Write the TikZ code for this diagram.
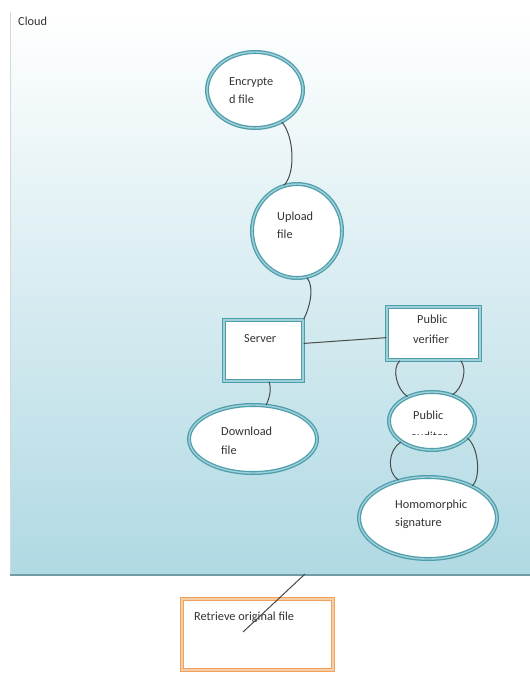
\documentclass[tikz,border=0pt]{standalone}
\usepackage{fontspec}
\setmainfont{Carlito}
\usetikzlibrary{shapes.geometric,calc}

\definecolor{tealring}{HTML}{4E9EAC}
\definecolor{tealpale}{HTML}{9FD0D9}
\definecolor{orangering}{HTML}{F0A15E}
\definecolor{orangepale}{HTML}{F7CDA6}
\definecolor{skyblue}{HTML}{B0D9E3}
\definecolor{edgegray}{HTML}{D4D8D9}
\definecolor{shadowteal}{HTML}{6F9CA6}
\definecolor{linkgray}{HTML}{4A4A4A}
\definecolor{inkgray}{HTML}{333333}

\tikzset{
  bubble/.style={ellipse, draw=tealring, double=tealpale, double distance=1.4pt,
    line width=1.3pt, fill=white, inner sep=0pt},
  tealbox/.style={rectangle, draw=tealring, double=tealpale, double distance=1.4pt,
    line width=1.4pt, fill=white, inner sep=0pt},
  orangebox/.style={rectangle, draw=orangering, double=orangepale, double distance=1.4pt,
    line width=1.4pt, fill=white, inner sep=0pt},
  lbl/.style={anchor=base west, inner sep=0pt, text=inkgray,
    font=\fontsize{12.3}{14}\selectfont},
  link/.style={draw=linkgray, line width=1pt},
}

\begin{document}
\begin{tikzpicture}[x=1pt,y=-1pt]
  \useasboundingbox (0,0) rectangle (530,675);
  \fill[white] (0,0) rectangle (530,675);

  % cloud region
  \shade[top color=white, bottom color=skyblue] (10,12) rectangle (530,575);
  \draw[edgegray, line width=1pt] (10,12) -- (10,575);
  \draw[shadowteal, line width=2pt] (10,575) -- (530,575);
  \node[lbl] (cloudlbl) at (18,25) {Cloud};

  % shapes
  \node[bubble, minimum width=96pt, minimum height=76pt] (enc) at (255,90) {};
  \node[bubble, minimum width=90pt, minimum height=94pt] (upl) at (297,231) {};
  \node[tealbox, minimum width=79pt, minimum height=61pt] (srv) at (263.5,350.5) {};
  \node[tealbox, minimum width=93pt, minimum height=53pt] (ver) at (433.5,333.5) {};
  \node[bubble, minimum width=86pt, minimum height=58pt] (aud) at (432,421) {};
  \node[bubble, minimum width=138pt, minimum height=82pt] (hom) at (428,518) {};
  \node[bubble, minimum width=128pt, minimum height=68pt] (dl) at (253,439) {};
  \node[orangebox, minimum width=151pt, minimum height=71pt] (ret) at (257.5,634.5) {};

  % labels
  \node[lbl] (encA) at (229,85) {Encrypte};
  \node[lbl] (encB) at (229,103) {d file};
  \node[lbl] (uplA) at (277,220) {Upload};
  \node[lbl] (uplB) at (277,238) {file};
  \node[lbl] (srvA) at (244,342) {Server};
  \node[lbl] (verA) at (417,323) {Public};
  \node[lbl] (verB) at (413,343) {verifier};
  \node[lbl] (audA) at (413,419) {Public};
  \begin{scope}
    \clip (405,431.5) rectangle (462,434.5);
    \node[lbl] (audB) at (411,440) {auditor};
  \end{scope}
  \node[lbl] (homA) at (395,508) {Homomorphic};
  \node[lbl] (homB) at (395,526) {signature};
  \node[lbl] (dlA) at (221,435) {Download};
  \node[lbl] (dlB) at (221,454) {file};
  \node[lbl] (retA) at (194,620) {Retrieve original file};

  % connectors
  \draw[link] (enc.-50) .. controls +(12,14) and +(12,-12) .. (upl.106);
  \draw[link] (upl.-78) .. controls +(8,10) and +(6,-12) .. (srv.north east);
  \draw[link] (srv.10) -- (ver.185);
  \draw[link] (srv.-80) .. controls +(3,8) and +(3,-6) .. (dl.69);
  \draw[link] (ver.-141) .. controls +(-9,8) and +(-10,-6) .. (aud.135);
  \draw[link] (ver.-45) .. controls +(7,8) and +(10,-6) .. (aud.52);
  \draw[link] (aud.-146) .. controls +(-13,8) and +(-12,-8) .. (hom.128);
  \draw[link] (aud.-26) .. controls +(11,8) and +(9,-8) .. (hom.36);

  \coordinate (cloudexit) at (305,574);
  \coordinate (retin) at (243,632);
  \draw[link] (cloudexit) -- (retin);
\end{tikzpicture}
\end{document}
